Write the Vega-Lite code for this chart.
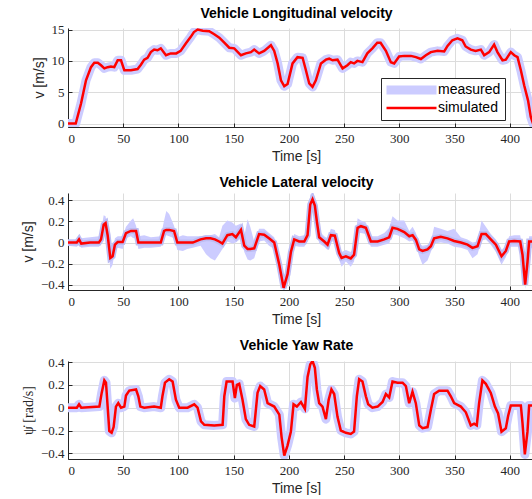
{
  "$schema": "https://vega.github.io/schema/vega-lite/v6.json",
  "background": "white",
  "padding": {"left": 21, "top": 6, "right": 0, "bottom": 0},
  "spacing": 13,
  "datasets": {
    "lon": [
      {"t":0,"v":0},{"t":7,"v":0},{"t":11.8,"v":3.2},{"t":16.3,"v":6.9},{"t":20.8,"v":9.0},{"t":23.8,"v":9.7},{"t":27,"v":9.7},{"t":29.9,"v":9.3},{"t":32.9,"v":8.8},{"t":35.9,"v":9.0},{"t":38.9,"v":9.1},{"t":41.9,"v":9.0},{"t":45,"v":10.1},{"t":48,"v":10.1},{"t":51,"v":8.5},{"t":57,"v":8.5},{"t":63,"v":8.7},{"t":66,"v":9.4},{"t":69,"v":10.2},{"t":72,"v":10.5},{"t":75,"v":11.4},{"t":78,"v":11.8},{"t":81,"v":11.7},{"t":84,"v":12.0},{"t":88.7,"v":10.9},{"t":93,"v":11.2},{"t":98,"v":11.2},{"t":102,"v":11.6},{"t":106.8,"v":12.8},{"t":111,"v":13.8},{"t":114,"v":14.6},{"t":117.4,"v":15.0},{"t":122,"v":14.8},{"t":127.9,"v":14.75},{"t":132.4,"v":14.25},{"t":137,"v":13.7},{"t":141.5,"v":12.9},{"t":146,"v":12.1},{"t":150.5,"v":12.0},{"t":156.6,"v":10.9},{"t":161,"v":11.2},{"t":165.6,"v":11.4},{"t":168.6,"v":11.8},{"t":173,"v":11.2},{"t":177.6,"v":11.6},{"t":183.7,"v":12.5},{"t":186.7,"v":11.6},{"t":189.8,"v":9.6},{"t":192.8,"v":6.9},{"t":195.8,"v":5.95},{"t":198.8,"v":6.3},{"t":203.3,"v":9.6},{"t":207.8,"v":10.6},{"t":212.4,"v":10.5},{"t":215.4,"v":8.5},{"t":218.4,"v":6.4},{"t":221.4,"v":5.85},{"t":224.4,"v":6.9},{"t":229,"v":9.6},{"t":233.5,"v":10.2},{"t":236.5,"v":10.35},{"t":239.5,"v":10.1},{"t":244,"v":10.2},{"t":248.6,"v":8.8},{"t":253,"v":9.3},{"t":256,"v":9.8},{"t":259,"v":9.6},{"t":262,"v":10.0},{"t":266.6,"v":9.8},{"t":271,"v":11.2},{"t":275.6,"v":12.0},{"t":280,"v":12.9},{"t":283,"v":12.9},{"t":287.8,"v":11.6},{"t":292.3,"v":9.8},{"t":295.3,"v":9.6},{"t":299.8,"v":10.7},{"t":304.4,"v":10.8},{"t":310.4,"v":10.8},{"t":315,"v":10.6},{"t":319.5,"v":10.3},{"t":324,"v":10.9},{"t":328.5,"v":11.4},{"t":334.6,"v":11.6},{"t":340.6,"v":11.5},{"t":343.6,"v":12.4},{"t":348,"v":13.3},{"t":352.6,"v":13.6},{"t":357,"v":13.3},{"t":360,"v":12.3},{"t":364.7,"v":11.8},{"t":369,"v":11.6},{"t":373.8,"v":11.8},{"t":376.8,"v":10.9},{"t":381.3,"v":11.4},{"t":385.8,"v":12.6},{"t":388.8,"v":11.4},{"t":393.4,"v":10.1},{"t":396.4,"v":10.2},{"t":400.9,"v":11.4},{"t":404,"v":10.9},{"t":407,"v":10.6},{"t":410,"v":8.5},{"t":413,"v":6.1},{"t":416.5,"v":3.7},{"t":419,"v":1.05},{"t":421,"v":0},{"t":425,"v":-0.5}
    ],
    "lat": [
      {"t":0,"v":0,"lo":-0.03,"hi":0.03},{"t":8,"v":0,"lo":-0.04,"hi":0.03},{"t":10,"v":0.03,"lo":-0.02,"hi":0.06},{"t":12,"v":-0.01,"lo":-0.05,"hi":0.04},{"t":20,"v":0,"lo":-0.04,"hi":0.05},{"t":28,"v":0,"lo":-0.04,"hi":0.06},{"t":29.9,"v":0.03,"lo":-0.02,"hi":0.11},{"t":32.3,"v":0.17,"lo":0.09,"hi":0.26},{"t":34,"v":0.185,"lo":0.11,"hi":0.25},{"t":35.9,"v":0.07,"lo":0.01,"hi":0.13},{"t":38.3,"v":-0.146,"lo":-0.25,"hi":-0.09},{"t":40.4,"v":-0.13,"lo":-0.21,"hi":-0.07},{"t":42.5,"v":-0.02,"lo":-0.07,"hi":0.04},{"t":45,"v":0.005,"lo":-0.05,"hi":0.06},{"t":49.5,"v":0.005,"lo":-0.06,"hi":0.06},{"t":52.5,"v":0.09,"lo":0.04,"hi":0.15},{"t":57,"v":0.11,"lo":0.06,"hi":0.21},{"t":59,"v":0.11,"lo":0.04,"hi":0.23},{"t":61.6,"v":0.11,"lo":0.05,"hi":0.16},{"t":63.7,"v":0,"lo":-0.06,"hi":0.06},{"t":69,"v":0,"lo":-0.05,"hi":0.07},{"t":75,"v":0,"lo":-0.05,"hi":0.05},{"t":84,"v":0,"lo":-0.04,"hi":0.06},{"t":87,"v":0.11,"lo":0.06,"hi":0.21},{"t":89,"v":0.12,"lo":0.07,"hi":0.3},{"t":91.6,"v":0.12,"lo":0.06,"hi":0.27},{"t":96,"v":0.11,"lo":0.04,"hi":0.16},{"t":99,"v":0,"lo":-0.07,"hi":0.05},{"t":104,"v":0,"lo":-0.08,"hi":0.07},{"t":108,"v":0,"lo":-0.06,"hi":0.06},{"t":113,"v":0,"lo":-0.05,"hi":0.06},{"t":120,"v":0.03,"lo":-0.03,"hi":0.06},{"t":125,"v":0.04,"lo":-0.11,"hi":0.07},{"t":129,"v":0.04,"lo":-0.15,"hi":0.07},{"t":133,"v":0.03,"lo":-0.17,"hi":0.08},{"t":136.8,"v":0.01,"lo":-0.11,"hi":0.05},{"t":139.8,"v":-0.01,"lo":-0.06,"hi":0.16},{"t":144.3,"v":0.07,"lo":0.01,"hi":0.21},{"t":148.8,"v":0.08,"lo":-0.01,"hi":0.19},{"t":152,"v":0.05,"lo":0.0,"hi":0.16},{"t":156.6,"v":0.12,"lo":0.04,"hi":0.18},{"t":159.6,"v":-0.03,"lo":-0.09,"hi":0.06},{"t":162.6,"v":-0.06,"lo":-0.16,"hi":0.22},{"t":165,"v":-0.06,"lo":-0.17,"hi":0.15},{"t":168.6,"v":-0.055,"lo":-0.15,"hi":0.01},{"t":173,"v":0.08,"lo":0.01,"hi":0.13},{"t":177.6,"v":0.075,"lo":0.02,"hi":0.13},{"t":182,"v":0.04,"lo":-0.03,"hi":0.09},{"t":186.7,"v":0,"lo":-0.06,"hi":0.05},{"t":191.3,"v":-0.21,"lo":-0.27,"hi":-0.14},{"t":195.2,"v":-0.43,"lo":-0.48,"hi":-0.35},{"t":198.8,"v":-0.3,"lo":-0.37,"hi":-0.24},{"t":201.8,"v":-0.09,"lo":-0.16,"hi":-0.03},{"t":204.8,"v":0.03,"lo":-0.03,"hi":0.08},{"t":209.3,"v":0.01,"lo":-0.04,"hi":0.06},{"t":213.9,"v":0.01,"lo":-0.04,"hi":0.07},{"t":216.9,"v":0.07,"lo":0.01,"hi":0.16},{"t":219.3,"v":0.36,"lo":0.29,"hi":0.45},{"t":221.4,"v":0.41,"lo":0.34,"hi":0.48},{"t":223.5,"v":0.35,"lo":0.27,"hi":0.43},{"t":225.3,"v":0.2,"lo":0.12,"hi":0.28},{"t":227.4,"v":0.05,"lo":-0.01,"hi":0.11},{"t":232,"v":0.01,"lo":-0.04,"hi":0.06},{"t":235,"v":-0.02,"lo":-0.07,"hi":0.04},{"t":238,"v":0.07,"lo":0.01,"hi":0.13},{"t":241.6,"v":0.065,"lo":0.01,"hi":0.12},{"t":245.5,"v":-0.1,"lo":-0.16,"hi":-0.04},{"t":247.7,"v":-0.145,"lo":-0.23,"hi":-0.09},{"t":251.6,"v":-0.13,"lo":-0.18,"hi":-0.07},{"t":256,"v":-0.15,"lo":-0.23,"hi":-0.09},{"t":259,"v":-0.115,"lo":-0.18,"hi":-0.05},{"t":262.2,"v":0.14,"lo":0.09,"hi":0.23},{"t":265.2,"v":0.155,"lo":0.09,"hi":0.21},{"t":269.7,"v":0.14,"lo":0.08,"hi":0.19},{"t":274.2,"v":0.01,"lo":-0.04,"hi":0.06},{"t":280.3,"v":0.01,"lo":-0.04,"hi":0.06},{"t":286.3,"v":0.03,"lo":-0.02,"hi":0.09},{"t":290.8,"v":0.05,"lo":-0.01,"hi":0.14},{"t":293.8,"v":0.14,"lo":0.08,"hi":0.25},{"t":298.3,"v":0.13,"lo":0.07,"hi":0.21},{"t":304.4,"v":0.1,"lo":0.04,"hi":0.21},{"t":309,"v":0.06,"lo":0.01,"hi":0.11},{"t":312,"v":0.07,"lo":0.02,"hi":0.15},{"t":315,"v":0.025,"lo":-0.03,"hi":0.09},{"t":318,"v":-0.065,"lo":-0.13,"hi":-0.01},{"t":321,"v":-0.08,"lo":-0.21,"hi":-0.03},{"t":325.5,"v":-0.065,"lo":-0.17,"hi":-0.02},{"t":328.5,"v":-0.035,"lo":-0.09,"hi":0.01},{"t":331.5,"v":0.04,"lo":-0.01,"hi":0.15},{"t":337.5,"v":0.055,"lo":0.0,"hi":0.13},{"t":343.6,"v":0.04,"lo":-0.01,"hi":0.11},{"t":349.6,"v":0.015,"lo":-0.04,"hi":0.13},{"t":355.7,"v":0,"lo":-0.05,"hi":0.05},{"t":361.7,"v":-0.02,"lo":-0.07,"hi":0.03},{"t":366.2,"v":-0.05,"lo":-0.15,"hi":0.0},{"t":370.8,"v":-0.035,"lo":-0.11,"hi":0.01},{"t":374.4,"v":0.08,"lo":0.02,"hi":0.21},{"t":378.3,"v":0.08,"lo":0.03,"hi":0.15},{"t":382.8,"v":0.03,"lo":-0.02,"hi":0.08},{"t":387.4,"v":-0.02,"lo":-0.09,"hi":0.03},{"t":392.5,"v":-0.13,"lo":-0.21,"hi":-0.07},{"t":396.4,"v":-0.08,"lo":-0.14,"hi":-0.03},{"t":399.4,"v":0.01,"lo":-0.04,"hi":0.06},{"t":404,"v":0.015,"lo":-0.04,"hi":0.07},{"t":409.4,"v":0.01,"lo":-0.04,"hi":0.07},{"t":411.5,"v":-0.115,"lo":-0.17,"hi":-0.05},{"t":413.9,"v":-0.4,"lo":-0.44,"hi":-0.34},{"t":416,"v":-0.185,"lo":-0.26,"hi":-0.12},{"t":417.5,"v":0.01,"lo":-0.06,"hi":0.06},{"t":420.5,"v":0.01,"lo":-0.05,"hi":0.06},{"t":425,"v":0,"lo":-0.05,"hi":0.05}
    ],
    "yaw": [
      {"t":0,"v":0},{"t":8,"v":0},{"t":10,"v":0.03},{"t":12,"v":0},{"t":28.4,"v":0.01},{"t":30.5,"v":0.13},{"t":32.9,"v":0.24},{"t":34.4,"v":0.22},{"t":35.9,"v":0.01},{"t":37.4,"v":-0.205},{"t":39.5,"v":-0.22},{"t":41.3,"v":-0.17},{"t":43.4,"v":0.01},{"t":45.5,"v":0.04},{"t":48,"v":0},{"t":51,"v":0.01},{"t":52.5,"v":0.107},{"t":55.5,"v":0.15},{"t":61.6,"v":0.16},{"t":63.7,"v":0.1},{"t":65.5,"v":0.01},{"t":69,"v":0},{"t":78,"v":0.01},{"t":84,"v":0},{"t":85.5,"v":0.1},{"t":87.8,"v":0.22},{"t":91.6,"v":0.25},{"t":94.7,"v":0.23},{"t":97.7,"v":0.07},{"t":100.7,"v":0},{"t":108.3,"v":0},{"t":114.3,"v":0.03},{"t":117.3,"v":0},{"t":120.4,"v":-0.12},{"t":123.4,"v":-0.15},{"t":132.4,"v":-0.155},{"t":140,"v":-0.15},{"t":141.5,"v":0.1},{"t":143.6,"v":0.23},{"t":149,"v":0.23},{"t":151.1,"v":0.085},{"t":152.9,"v":0.2},{"t":155,"v":0.21},{"t":158,"v":0.07},{"t":161,"v":-0.1},{"t":164,"v":-0.15},{"t":168.6,"v":-0.165},{"t":171.6,"v":0.13},{"t":174,"v":0.19},{"t":177.6,"v":0.16},{"t":180.7,"v":0.04},{"t":186.7,"v":0.01},{"t":191.3,"v":-0.06},{"t":193.4,"v":-0.26},{"t":195.8,"v":-0.42},{"t":198.8,"v":-0.33},{"t":201.8,"v":-0.21},{"t":204.2,"v":0.03},{"t":207.2,"v":0.01},{"t":210.9,"v":0.05},{"t":214.5,"v":-0.01},{"t":216.9,"v":0.27},{"t":219.3,"v":0.38},{"t":221.4,"v":0.41},{"t":223.5,"v":0.35},{"t":225.3,"v":0.16},{"t":227.4,"v":0.04},{"t":230.4,"v":0.01},{"t":233.5,"v":-0.1},{"t":236,"v":0.07},{"t":238.5,"v":0.16},{"t":241,"v":0.12},{"t":244,"v":-0.08},{"t":247,"v":-0.2},{"t":251.6,"v":-0.22},{"t":256,"v":-0.23},{"t":259,"v":-0.21},{"t":261.5,"v":0.1},{"t":263.6,"v":0.25},{"t":266.6,"v":0.23},{"t":269.7,"v":0.1},{"t":271.8,"v":0.03},{"t":275.6,"v":0},{"t":280.3,"v":0.01},{"t":284.8,"v":0.05},{"t":287.8,"v":0.12},{"t":290.8,"v":0.09},{"t":293.8,"v":0.23},{"t":298.3,"v":0.22},{"t":302.9,"v":0.22},{"t":305.9,"v":0.19},{"t":308.9,"v":0.04},{"t":311.9,"v":0.14},{"t":314.9,"v":0.04},{"t":318,"v":-0.155},{"t":321,"v":-0.18},{"t":325.5,"v":-0.17},{"t":328.5,"v":-0.02},{"t":331.5,"v":0.12},{"t":336,"v":0.15},{"t":343.6,"v":0.15},{"t":346.6,"v":0.1},{"t":349.6,"v":0.04},{"t":355.7,"v":0.01},{"t":360.2,"v":-0.04},{"t":364.7,"v":-0.155},{"t":367.7,"v":-0.14},{"t":370.1,"v":-0.155},{"t":372.2,"v":0.04},{"t":375.2,"v":0.24},{"t":378.3,"v":0.21},{"t":382.8,"v":0.13},{"t":386.5,"v":0.01},{"t":389.4,"v":-0.05},{"t":392.5,"v":-0.21},{"t":396.4,"v":-0.18},{"t":398.5,"v":-0.07},{"t":400.9,"v":0.02},{"t":405.4,"v":0.02},{"t":410,"v":0.02},{"t":411.5,"v":-0.135},{"t":413.6,"v":-0.41},{"t":416,"v":-0.21},{"t":417.5,"v":0.02},{"t":420.5,"v":0.02},{"t":425,"v":0.02}
    ]
  },
  "config": {
    "view": {"stroke": null},
    "font": "Liberation Sans",
    "title": {"font": "Liberation Sans", "fontSize": 14, "fontWeight": "bold", "color": "#000000", "offset": 3, "dx": -4},
    "legend": {"symbolSize": 2500, "symbolType": "stroke", "symbolStrokeWidth": 2.5},
    "axis": {
      "grid": true, "labelOverlap": false, "ticks": true, "tickSize": -4, "tickColor": "#262626",
      "domainColor": "#262626", "domainWidth": 1,
      "gridColor": "#dcdcdc", "gridWidth": 1, "gridOpacity": 1,
      "labelFont": "Liberation Serif", "labelFontSize": 13, "labelColor": "#262626",
      "titleFont": "Liberation Sans", "titleFontSize": 14, "titleFontWeight": "normal", "titleColor": "#262626"
    },
    "axisX": {"labelPadding": 9, "titlePadding": 4, "titleX": 228},
    "axisY": {"labelPadding": 8, "titlePadding": 5}
  },
  "vconcat": [
    {
      "width": 465, "height": 99,
      "title": "Vehicle Longitudinal velocity",
      "data": {"name": "lon"},
      "encoding": {
        "x": {"field": "t", "type": "quantitative", "scale": {"domain": [0, 421], "nice": false}, "axis": {"values": [0,50,100,150,200,250,300,350,400], "title": "Time [s]", "grid": true, "labelOverlap": false}},
        "y": {"field": "v", "type": "quantitative", "scale": {"domain": [-0.55, 15.25], "nice": false, "zero": false}, "axis": {"values": [0,5,10,15], "title": "v [m/s]", "grid": true, "labelOverlap": false}}
      },
      "layer": [
        {
          "mark": {"type": "line", "strokeWidth": 9, "clip": true, "strokeJoin": "round", "strokeCap": "round"},
          "encoding": {
            "color": {"datum": "measured", "type": "nominal", "scale": {"domain": ["measured", "simulated"], "range": ["#ccccff", "#ff0000"]},
              "legend": {"title": null, "orient": "none", "legendX": 313, "legendY": 50, "columns": 1, "symbolOffset": 0, "clipHeight": 16,
                "labelFont": "Liberation Sans", "labelFontSize": 14, "labelColor": "#000000", "strokeColor": "#262626", "fillColor": "white", "padding": 4, "rowPadding": 2, "labelOffset": 0,
                "encode": {"symbols": {"update": {"strokeWidth": {"signal": "(datum.label === 'measured' ? 9 : 2.5)"}}}}}}
          }
        },
        {
          "mark": {"type": "line", "strokeWidth": 2.5, "clip": true},
          "encoding": {
            "color": {"datum": "simulated", "type": "nominal"}
          }
        }
      ]
    },
    {
      "width": 465, "height": 97,
      "title": "Vehicle Lateral velocity",
      "data": {"name": "lat"},
      "encoding": {
        "x": {"field": "t", "type": "quantitative", "scale": {"domain": [0, 421], "nice": false}, "axis": {"values": [0,50,100,150,200,250,300,350,400], "title": "Time [s]", "grid": true, "labelOverlap": false}},
        "y": {"field": "v", "type": "quantitative", "scale": {"domain": [-0.45, 0.47], "nice": false, "zero": false}, "axis": {"values": [-0.4,-0.2,0,0.2,0.4], "format": ".1~f", "title": "v [m/s]", "grid": true, "labelOverlap": false}}
      },
      "layer": [
        {
          "mark": {"type": "area", "color": "#ccccff", "clip": true},
          "encoding": {
            "y": {"field": "lo", "type": "quantitative", "scale": {"domain": [-0.45, 0.47], "nice": false, "zero": false}, "axis": {"values": [-0.4,-0.2,0,0.2,0.4], "format": ".1~f", "title": "v [m/s]", "grid": true, "labelOverlap": false}},
            "y2": {"field": "hi"}
          }
        },
        {
          "mark": {"type": "line", "color": "#bdbdf3", "strokeWidth": 6, "clip": true}
        },
        {
          "mark": {"type": "line", "color": "#ff0000", "strokeWidth": 2.5, "clip": true}
        }
      ]
    },
    {
      "width": 465, "height": 98,
      "title": "Vehicle Yaw Rate",
      "data": {"name": "yaw"},
      "encoding": {
        "x": {"field": "t", "type": "quantitative", "scale": {"domain": [0, 421], "nice": false}, "axis": {"values": [0,50,100,150,200,250,300,350,400], "title": "Time [s]", "grid": true, "labelOverlap": false}},
        "y": {"field": "v", "type": "quantitative", "scale": {"domain": [-0.45, 0.41], "nice": false, "zero": false}, "axis": {"values": [-0.4,-0.2,0,0.2,0.4], "format": ".1~f", "title": "ψ̇ [rad/s]", "titleFont": "Liberation Serif", "titleFontSize": 14, "grid": true, "labelOverlap": false}}
      },
      "layer": [
        {
          "mark": {"type": "line", "color": "#ccccff", "strokeWidth": 9, "clip": true, "strokeJoin": "round", "strokeCap": "round"}
        },
        {
          "mark": {"type": "line", "color": "#ff0000", "strokeWidth": 2.5, "clip": true}
        }
      ]
    }
  ]
}
